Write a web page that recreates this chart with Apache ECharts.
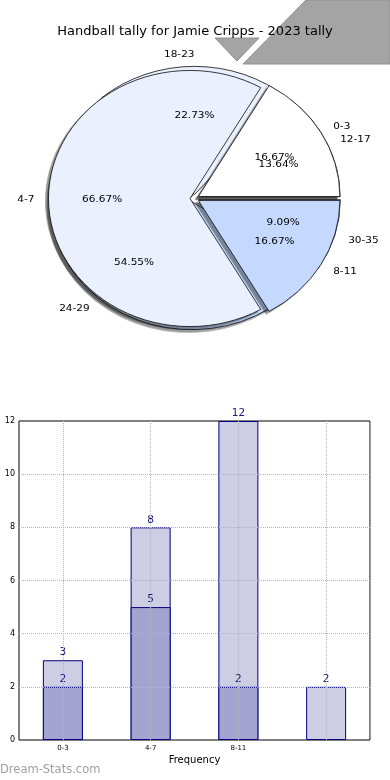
<!DOCTYPE html>
<html><head><meta charset="utf-8">
<script src="https://cdn.jsdelivr.net/npm/echarts@6/dist/echarts.min.js"></script>
<style>
html,body{margin:0;padding:0;background:#fff;overflow:hidden;}
#main{position:absolute;left:0;top:0;width:390px;height:780px;}
#pie{position:absolute;left:0;top:0;width:390px;height:400px;transform-origin:194.5px 198.5px;transform:scaleY(0.905);}
</style></head><body>
<div id="main"></div><div id="pie"></div>
<script>
// ---- data ----
const chartTitle = 'Handball tally for Jamie Cripps - 2023 tally';
const pieNamesA = ['0-3', '4-7', '8-11'];
const pieValuesA = [2, 8, 2];
const pieNamesB = ['12-17', '18-23', '24-29', '30-35'];
const pieValuesB = [3, 5, 12, 2];
const barCategories = ['0-3', '4-7', '8-11', ''];
const barLight = [3, 8, 12, 2];
const barDark = [2, 5, 2, null];
const xAxisName = 'Frequency';
const yAxisName = 'Number of Games';
const watermark = 'Dream-Stats.com';

// ---- styles ----
const FONT = 'DejaVu Sans';
const pieColors = ['#ffffff', '#eaf0fd', '#c4d9fd'];
const R = 141.5, CX = 194.5, CY = 198.5, OFF = 4.5;

function pieData(names, values, transparent) {
  return names.map((n, i) => ({
    name: n, value: values[i], selected: true,
    itemStyle: transparent ? { color: 'rgba(0,0,0,0)', borderWidth: 0 } : { color: pieColors[i % 3] }
  }));
}
function pctFmt(values) {
  const s = values.reduce((a, b) => a + b, 0);
  return p => (values[p.dataIndex] / s * 100).toFixed(2) + '%';
}
const baseSeries = {
  type: 'pie', center: [CX, CY], startAngle: 0, clockwise: false,
  selectedMode: 'multiple', selectedOffset: OFF, avoidLabelOverlap: false,
  silent: true, emphasis: { disabled: true }, animation: false
};
function visibleSeries(names, values, z, rightAlignIdx) {
  return Object.assign({}, baseSeries, {
    z: z, radius: R,
    data: pieData(names, values, false),
    itemStyle: { borderColor: '#000', borderWidth: 0.8, shadowColor: 'rgba(0,0,0,0.4)', shadowBlur: 1, shadowOffsetX: -3, shadowOffsetY: 3 },
    label: { show: true, position: 'outside', formatter: '{b}', fontSize: 10.5, color: '#000', fontFamily: FONT, distanceToLabelLine: 0 },
    labelLine: { show: false, length: R * 0.1, length2: 0 },
    labelLayout: p => (p.dataIndex === rightAlignIdx ? { hideOverlap: false, align: 'right' } : { hideOverlap: false })
  });
}
function pctSeries(names, values, z) {
  return Object.assign({}, baseSeries, {
    z: z, radius: [R * 0.2, R],
    data: pieData(names, values, true),
    label: { show: true, position: 'inside', formatter: pctFmt(values), fontSize: 10.5, color: '#000', fontFamily: FONT },
    labelLine: { show: false },
    labelLayout: { hideOverlap: false }
  });
}

const pie = echarts.init(document.getElementById('pie'), null, { renderer: 'svg' });
pie.setOption({
  animation: false,
  series: [
    visibleSeries(pieNamesB, pieValuesB, 1, 1),
    visibleSeries(pieNamesA, pieValuesA, 2, -1),
    pctSeries(pieNamesB, pieValuesB, 3),
    pctSeries(pieNamesA, pieValuesA, 4)
  ]
});

// helper category axis: half-slots, used only to draw vertical grid lines through bar centres
const halfSlots = ['a', 'b', 'c', 'd', 'e', 'f', 'g', 'h'];

const main = echarts.init(document.getElementById('main'), null, { renderer: 'canvas' });
main.setOption({
  animation: false,
  backgroundColor: '#fff',
  textStyle: { fontFamily: FONT },
  title: { text: chartTitle, left: 'center', top: 20, textStyle: { fontSize: 13, fontWeight: 'normal', color: '#000', fontFamily: FONT } },
  graphic: [
    { type: 'polygon', z: -1, shape: { points: [[243, 64], [306, 0], [390, 0], [390, 64]] }, style: { fill: '#a4a4a4', stroke: '#909090', lineWidth: 1 } },
    { type: 'polygon', z: -1, shape: { points: [[215, 38], [259, 38], [237, 61]] }, style: { fill: '#a4a4a4', stroke: '#909090', lineWidth: 1 } },
    { type: 'text', left: 0, top: 764, style: { text: watermark, fontSize: 11.5, fill: '#a0a0a0', fontFamily: FONT } }
  ],
  grid: { left: 19, right: 20, top: 421, bottom: 40, show: true, containLabel: false, outerBoundsMode: 'none',
    borderColor: '#000', borderWidth: 1, backgroundColor: 'transparent' },
  xAxis: [
    { type: 'category', data: barCategories, axisLine: { show: false }, axisTick: { show: false },
      axisLabel: { fontSize: 7, color: '#000', margin: 5 }, splitLine: { show: false },
      name: xAxisName, nameLocation: 'middle', nameGap: 15, nameTextStyle: { fontSize: 10, color: '#000' } },
    { type: 'category', data: halfSlots, position: 'top', z: 5,
      axisLine: { show: false }, axisTick: { show: false }, axisLabel: { show: false },
      splitLine: { show: true, interval: (i) => i % 2 === 1, lineStyle: { type: 'dotted', color: '#b4b4b4', width: 1 } } }
  ],
  yAxis: { type: 'value', min: 0, max: 12, interval: 2, z: 5,
    axisLine: { show: false }, axisTick: { show: false },
    axisLabel: { fontSize: 8, color: '#000', margin: 4 },
    splitLine: { show: true, showMinLine: false, showMaxLine: false, lineStyle: { type: 'dotted', color: '#b4b4b4', width: 1 } },
    name: yAxisName, nameLocation: 'middle', nameGap: 15.5, nameTextStyle: { fontSize: 9, color: '#000' } },
  series: [
    { type: 'bar', xAxisIndex: 0, data: barLight, barWidth: 40, barGap: '-100%', z: 2,
      itemStyle: { color: '#cdcde4', borderColor: '#000080', borderWidth: 1 },
      label: { show: true, position: 'top', distance: 2, color: '#1a1a80', fontSize: 10.5, fontFamily: FONT } },
    { type: 'bar', xAxisIndex: 0, data: barDark, barWidth: 40, barGap: '-100%', z: 2,
      itemStyle: { color: '#a4a4d0', borderColor: '#000080', borderWidth: 1 },
      label: { show: true, position: 'top', distance: 2, color: '#1a1a80', fontSize: 10.5, fontFamily: FONT } }
  ]
});
</script>
</body></html>
